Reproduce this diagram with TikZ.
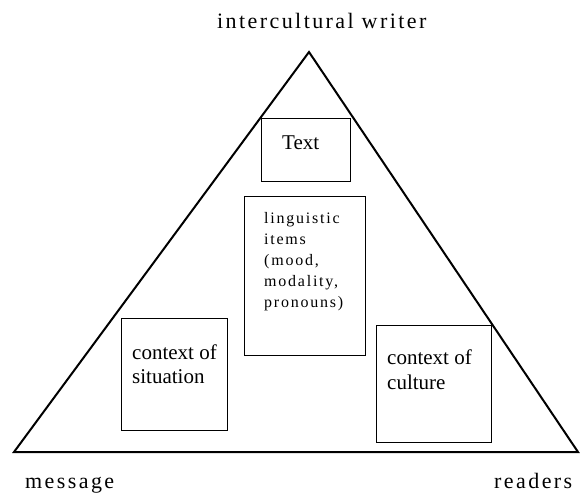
\documentclass[tikz,border=0pt]{standalone}
\usepackage{fontspec}
\setmainfont{Liberation Serif}
\newfontfamily\spc[LetterSpace=11]{Liberation Serif}
\begin{document}
\begin{tikzpicture}[x=1pt,y=-1pt,
  edge/.style={draw=black,line width=2pt,line join=miter},
  box/.style={draw=black,line width=1.1pt,fill=none,inner sep=0pt,anchor=north west},
  corner/.style={inner sep=0pt,anchor=base west,font=\spc\fontsize{22}{26}\selectfont},
  boxtxt/.style={inner sep=0pt,anchor=north west,align=left}]
\useasboundingbox (0,0) rectangle (580,495);
% vertices of the triangle
\coordinate (L) at (14,452);
\coordinate (T) at (309,52);
\coordinate (R) at (578,452);
\draw[edge] (L) -- (T) -- (R) -- cycle;
% corner labels
\node[corner] (writer) at (217,29) {intercultural writer};
\node[corner] (message) at (25,488) {message};
\node[corner] (readers) at (494,488) {readers};
% boxes
\node[box,minimum width=89pt,minimum height=63pt] (textbox) at (261,118) {};
\node[box,minimum width=121pt,minimum height=159pt] (ling) at (244,196) {};
\node[box,minimum width=106pt,minimum height=112pt] (sit) at (121,318) {};
\node[box,minimum width=115pt,minimum height=117pt] (cult) at (376,325) {};
% box texts
\node[inner sep=0pt,anchor=base west,font=\fontsize{21}{25}\selectfont] (textlbl) at (282,149) {Text};
\node[boxtxt,font=\spc\fontsize{16}{21}\selectfont] (linglbl) at (264,212) {linguistic\\items\\(mood,\\modality,\\pronouns)};
\node[boxtxt,font=\fontsize{21}{24}\selectfont] (sitlbl) at (132,345) {context of\\situation};
\node[boxtxt,font=\fontsize{21}{25}\selectfont] (cultlbl) at (387,350) {context of\\culture};
\end{tikzpicture}
\end{document}
